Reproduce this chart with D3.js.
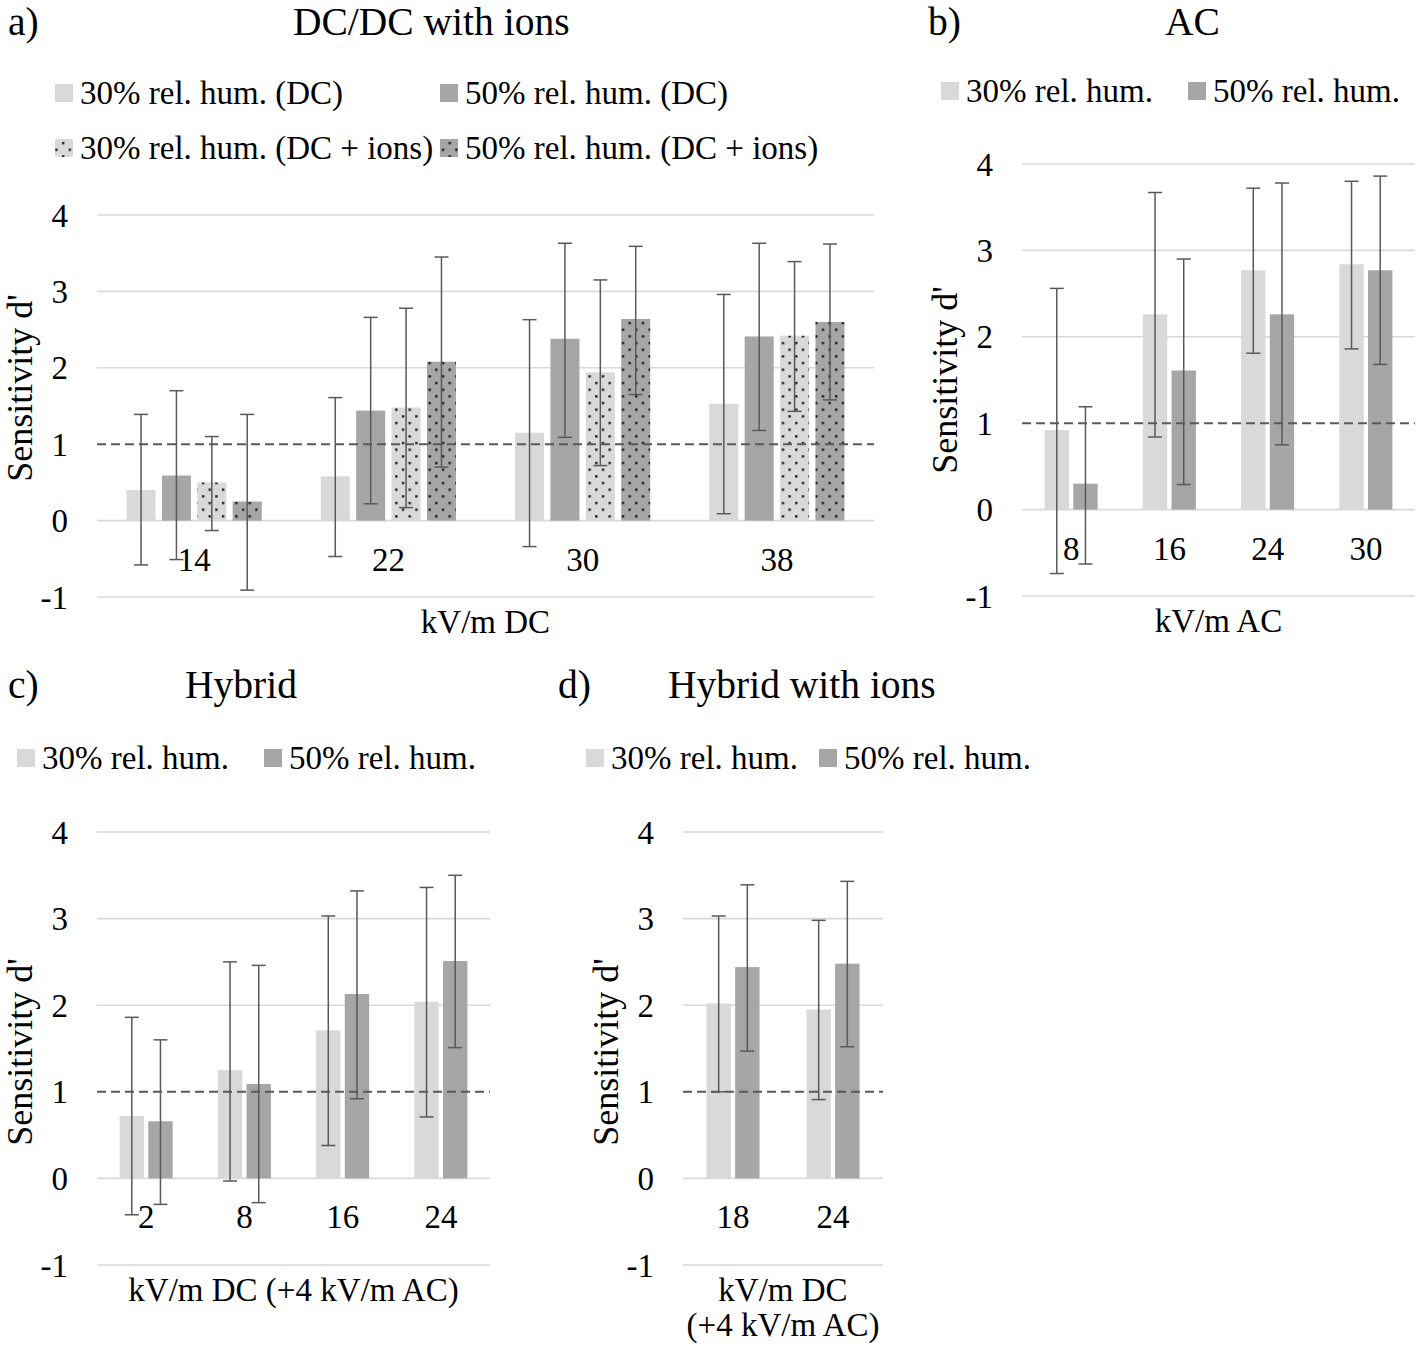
<!DOCTYPE html>
<html>
<head>
<meta charset="utf-8">
<script src="https://cdn.jsdelivr.net/npm/d3@7"></script>
<style>
  html, body { margin: 0; padding: 0; background: #fff; }
  svg { display: block; }
  text { font-family: "Liberation Serif", "Times New Roman", serif; fill: #000; }
</style>
</head>
<body>
<script>
// ---------------- DATA ----------------
const yTicks = [-1, 0, 1, 2, 3, 4];

// Panel a) DC/DC with ions
const catsA = ["14", "22", "30", "38"];
const seriesA = ["30% rel. hum. (DC)", "50% rel. hum. (DC)", "30% rel. hum. (DC + ions)", "50% rel. hum. (DC + ions)"];
const valsA30 = [0.40, 0.58, 1.15, 1.53];
const valsA50 = [0.59, 1.44, 2.38, 2.41];
const valsA30i = [0.50, 1.48, 1.94, 2.42];
const valsA50i = [0.25, 2.08, 2.64, 2.60];
const hiA30 = [1.39, 1.61, 2.63, 2.96];
const hiA50 = [1.70, 2.66, 3.63, 3.63];
const hiA30i = [1.10, 2.78, 3.15, 3.39];
const hiA50i = [1.39, 3.45, 3.59, 3.62];
const loA30 = [-0.58, -0.47, -0.34, 0.09];
const loA50 = [-0.51, 0.22, 1.09, 1.18];
const loA30i = [-0.13, 0.17, 0.72, 1.43];
const loA50i = [-0.91, 0.70, 1.65, 1.58];

// Panel b) AC
const catsB = ["8", "16", "24", "30"];
const seriesB = ["30% rel. hum.", "50% rel. hum."];
const valsB30 = [0.92, 2.26, 2.77, 2.84];
const valsB50 = [0.30, 1.61, 2.26, 2.77];
const hiB30 = [2.56, 3.67, 3.72, 3.80];
const hiB50 = [1.19, 2.90, 3.78, 3.86];
const loB30 = [-0.74, 0.84, 1.81, 1.86];
const loB50 = [-0.63, 0.29, 0.75, 1.68];

// Panel c) Hybrid
const catsC = ["2", "8", "16", "24"];
const seriesC = ["30% rel. hum.", "50% rel. hum."];
const valsC30 = [0.72, 1.25, 1.71, 2.04];
const valsC50 = [0.66, 1.09, 2.13, 2.51];
const hiC30 = [1.86, 2.50, 3.03, 3.36];
const hiC50 = [1.60, 2.46, 3.32, 3.50];
const loC30 = [-0.42, -0.03, 0.38, 0.71];
const loC50 = [-0.30, -0.28, 0.92, 1.51];

// Panel d) Hybrid with ions
const catsD = ["18", "24"];
const seriesD = ["30% rel. hum.", "50% rel. hum."];
const valsD30 = [2.02, 1.95];
const valsD50 = [2.44, 2.48];
const hiD30 = [3.03, 2.98];
const hiD50 = [3.39, 3.43];
const loD30 = [1.00, 0.91];
const loD50 = [1.47, 1.52];

// ---------------- STYLE ----------------
const LIGHT = "#d9d9d9", DARK = "#a6a6a6", ERR = "#595959", GRID = "#d9d9d9";

const svg = d3.select("body").append("svg").attr("width", 1416).attr("height", 1346);

const defs = svg.append("defs");
function dotPattern(id, bg) {
  const s = 13.33;
  const p = defs.append("pattern").attr("id", id).attr("patternUnits", "userSpaceOnUse")
    .attr("width", s).attr("height", s);
  p.append("rect").attr("width", s).attr("height", s).attr("fill", bg);
  p.append("rect").attr("x", 2).attr("y", 2).attr("width", 2.3).attr("height", 2.3).attr("fill", "#111");
  p.append("rect").attr("x", 2 + s / 2).attr("y", 2 + s / 2).attr("width", 2.3).attr("height", 2.3).attr("fill", "#111");
}
dotPattern("dotLight", LIGHT);
dotPattern("dotDark", DARK);

function panel(cfg) {
  const g = svg.append("g");
  const x = d3.scaleBand().domain(cfg.cats).range([cfg.x0, cfg.x1]).padding(0);
  const y = d3.scaleLinear().domain([-1, 4]).range([cfg.yBot, cfg.yTop]);
  const groupW = x.bandwidth() * cfg.groupFrac;
  const xs = d3.scaleBand().domain(d3.range(cfg.series.length)).range([0, groupW]).paddingInner(cfg.subPad).paddingOuter(0);

  // gridlines
  g.append("g").selectAll("line").data(yTicks.filter(t => t !== 1)).join("line")
    .attr("x1", cfg.x0).attr("x2", cfg.x1)
    .attr("y1", d => y(d)).attr("y2", d => y(d))
    .attr("stroke", GRID).attr("stroke-width", 1.6);

  // y tick labels
  g.append("g").selectAll("text").data(yTicks).join("text")
    .attr("x", cfg.x0 - 29).attr("y", d => y(d)).attr("dy", "0.35em")
    .attr("text-anchor", "end").attr("font-size", 33)
    .text(d => d);

  // bars
  cfg.series.forEach((s, si) => {
    const gx = c => x(c) + (x.bandwidth() - groupW) / 2 + xs(si);
    g.append("g").selectAll("rect").data(cfg.cats).join("rect")
      .attr("x", c => gx(c))
      .attr("width", xs.bandwidth())
      .attr("y", (c, i) => y(Math.max(0, cfg.vals[si][i])))
      .attr("height", (c, i) => Math.abs(y(cfg.vals[si][i]) - y(0)))
      .attr("fill", cfg.fills[si]);
  });

  // dashed reference line at 1
  g.append("line").attr("x1", cfg.x0).attr("x2", cfg.x1)
    .attr("y1", y(1)).attr("y2", y(1))
    .attr("stroke", ERR).attr("stroke-width", 2).attr("stroke-dasharray", "9,5");

  // error bars
  cfg.series.forEach((s, si) => {
    const cx = c => x(c) + (x.bandwidth() - groupW) / 2 + xs(si) + xs.bandwidth() / 2;
    const eg = g.append("g").attr("stroke", ERR).attr("stroke-width", 1.5);
    cfg.cats.forEach((c, i) => {
      const hi = cfg.hi[si][i], lo = cfg.lo[si][i];
      eg.append("line").attr("x1", cx(c)).attr("x2", cx(c)).attr("y1", y(hi)).attr("y2", y(lo));
      eg.append("line").attr("x1", cx(c) - 7).attr("x2", cx(c) + 7).attr("y1", y(hi)).attr("y2", y(hi));
      eg.append("line").attr("x1", cx(c) - 7).attr("x2", cx(c) + 7).attr("y1", y(lo)).attr("y2", y(lo));
    });
  });

  // x tick labels
  g.append("g").selectAll("text").data(cfg.cats).join("text")
    .attr("x", c => x(c) + x.bandwidth() / 2).attr("y", y(0) + 50)
    .attr("text-anchor", "middle").attr("font-size", 33)
    .text(c => c);

  // x axis title
  cfg.xTitle.forEach((t, i) => {
    g.append("text").attr("x", (cfg.x0 + cfg.x1) / 2).attr("y", cfg.yBot + 36 + i * 35)
      .attr("text-anchor", "middle").attr("font-size", 33).text(t);
  });

  // y axis title
  g.append("text")
    .attr("transform", `translate(${cfg.x0 - 65},${cfg.yLabelC}) rotate(-90)`)
    .attr("text-anchor", "middle").attr("font-size", 36)
    .text("Sensitivity d'");

  // panel letter + title
  g.append("text").attr("x", cfg.letterX).attr("y", cfg.titleY).attr("font-size", 39.5).text(cfg.letter);
  g.append("text").attr("x", cfg.titleX).attr("y", cfg.titleY).attr("font-size", 39.5).text(cfg.title);

  // legend
  cfg.legend.forEach((L) => {
    g.append("rect").attr("x", L.x).attr("y", L.y - 9).attr("width", 18).attr("height", 18)
      .attr("fill", cfg.fills[L.s]);
    g.append("text").attr("x", L.x + 25).attr("y", L.y + 11).attr("font-size", 33).text(cfg.series[L.s]);
  });
}

panel({
  cats: catsA, series: seriesA,
  vals: [valsA30, valsA50, valsA30i, valsA50i],
  hi: [hiA30, hiA50, hiA30i, hiA50i],
  lo: [loA30, loA50, loA30i, loA50i],
  fills: [LIGHT, DARK, "url(#dotLight)", "url(#dotDark)"],
  x0: 97, x1: 874, yTop: 215, yBot: 597,
  groupFrac: 0.696, subPad: 0.18,
  xTitle: ["kV/m DC"], yLabelC: 388,
  letter: "a)", letterX: 8, title: "DC/DC with ions", titleX: 293, titleY: 35,
  legend: [{s: 0, x: 55, y: 93}, {s: 1, x: 440, y: 93}, {s: 2, x: 55, y: 148}, {s: 3, x: 440, y: 148}]
});

panel({
  cats: catsB, series: seriesB,
  vals: [valsB30, valsB50], hi: [hiB30, hiB50], lo: [loB30, loB50],
  fills: [LIGHT, DARK],
  x0: 1022, x1: 1415, yTop: 164, yBot: 596,
  groupFrac: 0.54, subPad: 0.15,
  xTitle: ["kV/m AC"], yLabelC: 380,
  letter: "b)", letterX: 928, title: "AC", titleX: 1165, titleY: 35,
  legend: [{s: 0, x: 941, y: 91}, {s: 1, x: 1188, y: 91}]
});

panel({
  cats: catsC, series: seriesC,
  vals: [valsC30, valsC50], hi: [hiC30, hiC50], lo: [loC30, loC50],
  fills: [LIGHT, DARK],
  x0: 97, x1: 490, yTop: 832, yBot: 1265,
  groupFrac: 0.54, subPad: 0.15,
  xTitle: ["kV/m DC (+4 kV/m AC)"], yLabelC: 1052,
  letter: "c)", letterX: 8, title: "Hybrid", titleX: 185, titleY: 698,
  legend: [{s: 0, x: 17, y: 758}, {s: 1, x: 264, y: 758}]
});

panel({
  cats: catsD, series: seriesD,
  vals: [valsD30, valsD50], hi: [hiD30, hiD50], lo: [loD30, loD50],
  fills: [LIGHT, DARK],
  x0: 683, x1: 883, yTop: 832, yBot: 1265,
  groupFrac: 0.53, subPad: 0.15,
  xTitle: ["kV/m DC", "(+4 kV/m AC)"], yLabelC: 1052,
  letter: "d)", letterX: 558, title: "Hybrid with ions", titleX: 668, titleY: 698,
  legend: [{s: 0, x: 586, y: 758}, {s: 1, x: 819, y: 758}]
});
</script>
</body>
</html>
